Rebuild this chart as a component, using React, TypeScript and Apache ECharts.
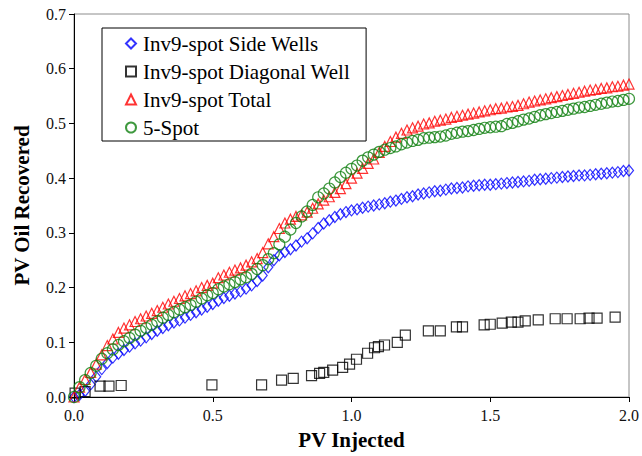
import React, { useEffect, useRef } from "react";
import * as echarts from "echarts";

const seriesNames = ["Inv9-spot Side Wells", "Inv9-spot Diagonal Well", "Inv9-spot Total", "5-Spot"];

// common x grid for the densely sampled curves (PV injected)
const pvInjected = [
  0, 0.02, 0.04, 0.06, 0.08, 0.1, 0.12, 0.14, 0.16, 0.18, 0.2, 0.22, 0.24, 0.26, 0.28, 0.3, 0.32, 0.34, 0.36, 0.38,
  0.4, 0.42, 0.44, 0.46, 0.48, 0.5, 0.52, 0.54, 0.56, 0.58, 0.6, 0.62, 0.64, 0.66, 0.68, 0.7, 0.72, 0.74, 0.76, 0.78,
  0.8, 0.82, 0.84, 0.86, 0.88, 0.9, 0.92, 0.94, 0.96, 0.98, 1.0, 1.02, 1.04, 1.06, 1.08, 1.1, 1.12, 1.14, 1.16, 1.18,
  1.2, 1.22, 1.24, 1.26, 1.28, 1.3, 1.32, 1.34, 1.36, 1.38, 1.4, 1.42, 1.44, 1.46, 1.48, 1.5, 1.52, 1.54, 1.56, 1.58,
  1.6, 1.62, 1.64, 1.66, 1.68, 1.7, 1.72, 1.74, 1.76, 1.78, 1.8, 1.82, 1.84, 1.86, 1.88, 1.9, 1.92, 1.94, 1.96, 1.98, 2.0,
];

const sideWells = [
  0, 0.004, 0.011, 0.023, 0.037, 0.051, 0.062, 0.072, 0.079, 0.086, 0.092, 0.098, 0.103, 0.109, 0.115, 0.121, 0.126, 0.131, 0.136, 0.14,
  0.145, 0.15, 0.155, 0.16, 0.165, 0.17, 0.176, 0.181, 0.185, 0.189, 0.193, 0.198, 0.204, 0.212, 0.222, 0.237, 0.25, 0.259, 0.265, 0.27,
  0.277, 0.284, 0.29, 0.299, 0.309, 0.317, 0.323, 0.329, 0.334, 0.338, 0.341, 0.343, 0.346, 0.348, 0.35, 0.352, 0.354, 0.357, 0.359, 0.362,
  0.365, 0.367, 0.37, 0.372, 0.374, 0.376, 0.377, 0.379, 0.381, 0.382, 0.383, 0.385, 0.386, 0.387, 0.388, 0.388, 0.389, 0.39, 0.391, 0.392,
  0.393, 0.394, 0.395, 0.397, 0.398, 0.399, 0.4, 0.401, 0.402, 0.403, 0.404, 0.405, 0.405, 0.406, 0.407, 0.408, 0.409, 0.41, 0.411, 0.413, 0.414,
];

const total = [
  0, 0.018, 0.032, 0.045, 0.06, 0.077, 0.094, 0.106, 0.118, 0.126, 0.132, 0.138, 0.143, 0.148, 0.153, 0.158, 0.164, 0.17, 0.175, 0.18,
  0.185, 0.189, 0.194, 0.2, 0.204, 0.208, 0.218, 0.223, 0.228, 0.232, 0.236, 0.241, 0.247, 0.253, 0.264, 0.28, 0.293, 0.308, 0.318, 0.325,
  0.33, 0.333, 0.338, 0.345, 0.353, 0.36, 0.366, 0.374, 0.381, 0.39, 0.4, 0.409, 0.418, 0.427, 0.435, 0.447, 0.458, 0.467, 0.475, 0.482,
  0.488, 0.492, 0.495, 0.499, 0.501, 0.504, 0.506, 0.508, 0.511, 0.513, 0.515, 0.517, 0.519, 0.521, 0.523, 0.525, 0.527, 0.528, 0.53, 0.531,
  0.533, 0.536, 0.539, 0.541, 0.543, 0.545, 0.547, 0.549, 0.551, 0.553, 0.555, 0.557, 0.559, 0.561, 0.562, 0.564, 0.565, 0.567, 0.568, 0.57, 0.572,
];

const fiveSpot = [
  0, 0.018, 0.031, 0.044, 0.057, 0.07, 0.08, 0.087, 0.095, 0.102, 0.108, 0.114, 0.121, 0.126, 0.132, 0.138, 0.145, 0.15, 0.155, 0.16,
  0.164, 0.168, 0.174, 0.18, 0.186, 0.19, 0.197, 0.202, 0.206, 0.21, 0.215, 0.219, 0.225, 0.234, 0.241, 0.252, 0.263, 0.279, 0.293, 0.306,
  0.318, 0.33, 0.339, 0.351, 0.365, 0.372, 0.381, 0.392, 0.402, 0.41, 0.417, 0.423, 0.432, 0.438, 0.443, 0.448, 0.452, 0.455, 0.458, 0.462,
  0.465, 0.468, 0.47, 0.473, 0.474, 0.475, 0.476, 0.478, 0.481, 0.483, 0.485, 0.486, 0.488, 0.49, 0.492, 0.493, 0.494, 0.495, 0.499, 0.501,
  0.504, 0.507, 0.509, 0.512, 0.515, 0.517, 0.519, 0.521, 0.523, 0.525, 0.527, 0.529, 0.53, 0.532, 0.534, 0.536, 0.538, 0.54, 0.541, 0.543, 0.545,
];

const diagonalX = [
  0.004, 0.04, 0.094, 0.126, 0.17, 0.497, 0.676, 0.748, 0.79, 0.856, 0.885, 0.9, 0.932, 0.968, 0.993, 1.018, 1.058, 1.083, 1.097, 1.119,
  1.165, 1.194, 1.277, 1.32, 1.378, 1.4, 1.478, 1.5, 1.543, 1.576, 1.6, 1.626, 1.673, 1.734, 1.777, 1.824, 1.856, 1.885, 1.95,
];
const diagonalY = [
  0.007, 0.01, 0.02, 0.02, 0.021, 0.022, 0.022, 0.031, 0.034, 0.039, 0.043, 0.045, 0.049, 0.054, 0.06, 0.069, 0.08, 0.09, 0.092, 0.095,
  0.1, 0.113, 0.121, 0.121, 0.128, 0.128, 0.132, 0.133, 0.135, 0.137, 0.137, 0.139, 0.141, 0.143, 0.143, 0.143, 0.144, 0.144, 0.146,
];

const FONT = "Liberation Serif";

export default function App() {
  const ref = useRef<HTMLDivElement>(null);
  useEffect(() => {
    if (!ref.current) return;
    const chart = echarts.init(ref.current, undefined, { renderer: "svg" });
    const pair = (xs: number[], ys: number[]) => ys.map((y, i) => [xs[i], y]);
    const hollow = (c: string) => ({ color: "rgba(0,0,0,0)", borderColor: c, borderWidth: 1.2 });
    chart.setOption({
      animation: false,
      backgroundColor: "#fff",
      textStyle: { fontFamily: FONT },
      grid: { left: 74, right: 12, top: 14, bottom: 59, show: true, borderColor: "#8c8c8c", borderWidth: 1 },
      legend: {
        orient: "vertical",
        left: 102,
        top: 28,
        padding: [5, 16, 3, 23],
        itemGap: 7,
        itemWidth: 10,
        itemHeight: 10,
        borderColor: "#000",
        borderWidth: 1,
        backgroundColor: "#fff",
        borderRadius: 0,
        textStyle: { fontFamily: FONT, fontSize: 21, color: "#000", padding: [0, 0, 0, 2] },
        data: [
          { name: seriesNames[0], icon: "diamond" },
          { name: seriesNames[1], icon: "rect" },
          { name: seriesNames[2], icon: "triangle" },
          { name: seriesNames[3], icon: "circle" },
        ],
      },
      xAxis: {
        type: "value",
        min: 0,
        max: 2,
        interval: 0.5,
        name: "PV Injected",
        nameLocation: "middle",
        nameGap: 32,
        nameTextStyle: { fontFamily: FONT, fontSize: 21, fontWeight: "bold", color: "#000" },
        axisLine: { lineStyle: { color: "#000", width: 1 } },
        axisTick: { length: 5, lineStyle: { color: "#000" } },
        axisLabel: { fontFamily: FONT, fontSize: 16, color: "#111", margin: 10, formatter: (v: number) => v.toFixed(1) },
        splitLine: { show: false },
      },
      yAxis: {
        type: "value",
        min: 0,
        max: 0.7,
        interval: 0.1,
        name: "PV Oil Recovered",
        nameLocation: "middle",
        nameGap: 42,
        nameTextStyle: { fontFamily: FONT, fontSize: 21, fontWeight: "bold", color: "#000" },
        axisLine: { lineStyle: { color: "#000", width: 1 } },
        axisTick: { length: 5, lineStyle: { color: "#000" } },
        axisLabel: { fontFamily: FONT, fontSize: 16, color: "#111", margin: 8, formatter: (v: number) => v.toFixed(1) },
        splitLine: { show: false },
      },
      series: [
        {
          name: seriesNames[0],
          type: "scatter",
          symbol: "diamond",
          symbolSize: [9, 11],
          itemStyle: hollow("#0000ff"),
          data: pair(pvInjected, sideWells),
        },
        {
          name: seriesNames[1],
          type: "scatter",
          symbol: "rect",
          symbolSize: 10,
          itemStyle: hollow("#000000"),
          data: pair(diagonalX, diagonalY),
        },
        {
          name: seriesNames[2],
          type: "scatter",
          symbol: "triangle",
          symbolSize: 10,
          itemStyle: hollow("#ff0000"),
          data: pair(pvInjected, total),
        },
        {
          name: seriesNames[3],
          type: "scatter",
          symbol: "circle",
          symbolSize: 11,
          itemStyle: hollow("#0f800f"),
          data: pair(pvInjected, fiveSpot),
        },
      ],
    });
    return () => chart.dispose();
  }, []);
  return <div ref={ref} style={{ width: 642, height: 456, position: "absolute", left: 0, top: 0 }} />;
}
